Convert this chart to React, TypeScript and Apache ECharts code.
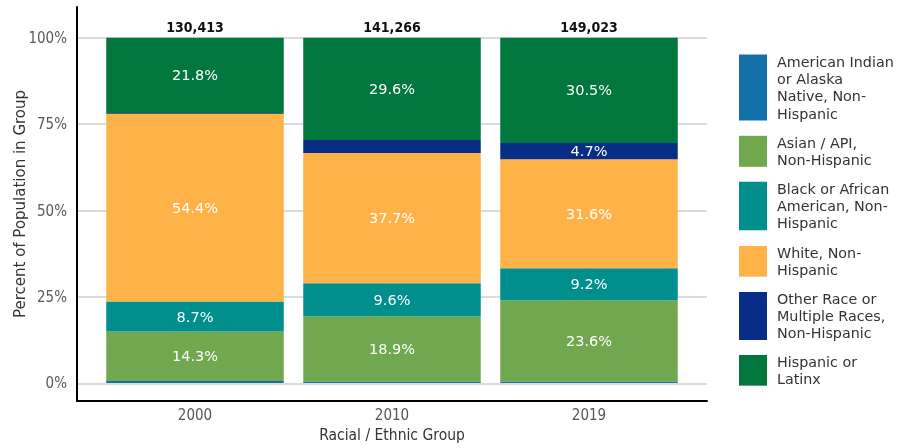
import React, { useEffect, useRef } from "react";
import * as echarts from "echarts";

const years = ["2000", "2010", "2019"];
const totals = ["130,413", "141,266", "149,023"];
const seriesNames = [
  "American Indian or Alaska Native, Non-Hispanic",
  "Asian / API, Non-Hispanic",
  "Black or African American, Non-Hispanic",
  "White, Non-Hispanic",
  "Other Race or Multiple Races, Non-Hispanic",
  "Hispanic or Latinx",
];
const legendLabels = [
  "American Indian\nor Alaska\nNative, Non-\nHispanic",
  "Asian / API,\nNon-Hispanic",
  "Black or African\nAmerican, Non-\nHispanic",
  "White, Non-\nHispanic",
  "Other Race or\nMultiple Races,\nNon-Hispanic",
  "Hispanic or\nLatinx",
];
const americanIndian = [0.6, 0.4, 0.4];
const asian = [14.3, 18.9, 23.6];
const black = [8.7, 9.6, 9.2];
const white = [54.4, 37.7, 31.6];
const other = [0.2, 3.8, 4.7];
const hispanic = [21.8, 29.6, 30.5];
const yTicks = [0, 25, 50, 75, 100];

const colors = ["#1470a9", "#70a74f", "#008f8d", "#feb247", "#072d86", "#01763d"];
const seriesValues = [americanIndian, asian, black, white, other, hispanic];

const FONT = "DejaVu Sans";
const COND = "'DejaVu Sans Condensed', 'DejaVu Sans'";

export default function App() {
  const ref = useRef<HTMLDivElement>(null);
  useEffect(() => {
    if (!ref.current) return;
    const chart = echarts.init(ref.current, null, { renderer: "svg" });
    const legendTops = [53, 134, 180, 244, 290, 353];
    const legendHeights = [66, 31, 48.5, 30.7, 48, 30.7];
    const legends = seriesNames.map((name, i) => ({
      data: [name],
      left: 739,
      top: legendTops[i],
      orient: "vertical",
      itemWidth: 28,
      itemHeight: legendHeights[i],
      icon: "rect",
      selectedMode: false,
      padding: 0,
      formatter: () => legendLabels[i],
      textStyle: {
        fontFamily: FONT,
        fontSize: 14.3,
        color: "#333333",
        lineHeight: 17.3,
        padding: [0, 0, 0, 5],
      },
    }));

    const barSeries = seriesNames.map((name, i) => ({
      name,
      type: "bar",
      stack: "total",
      xAxisIndex: 1,
      yAxisIndex: 1,
      barWidth: 177.5,
      data: seriesValues[i],
      itemStyle: { color: colors[i] },
      label: {
        show: true,
        position: "inside",
        color: "#ffffff",
        fontFamily: FONT,
        fontSize: 14.5,
        formatter: (p: any) => (p.value >= 4 ? p.value.toFixed(1) + "%" : ""),
      },
      emphasis: { disabled: true },
    }));

    const totalSeries = {
      name: "Total",
      type: "bar",
      stack: "total",
      xAxisIndex: 1,
      yAxisIndex: 1,
      barWidth: 177.5,
      data: years.map(() => 0),
      itemStyle: { color: "transparent" },
      label: {
        show: true,
        position: "top",
        distance: 4,
        color: "#111111",
        fontFamily: COND,
        fontSize: 14,
        fontWeight: "bold",
        formatter: (p: any) => totals[p.dataIndex],
      },
      emphasis: { disabled: true },
    };

    chart.setOption({
      animation: false,
      legend: legends,
      grid: [
        { left: 77, right: 192, top: 37.7, bottom: 64.7 },
        { left: 96.5, right: 211.5, top: 37.7, bottom: 64.7 },
        { left: 77, right: 192, top: 7, bottom: 47 },
      ],
      xAxis: [
        { gridIndex: 0, type: "category", data: years, show: false },
        {
          gridIndex: 1,
          type: "category",
          data: years,
          axisLine: { show: false },
          axisTick: { show: false },
          axisLabel: { margin: 24, color: "#555555", fontFamily: COND, fontSize: 15 },
          name: "Racial / Ethnic Group",
          nameLocation: "middle",
          nameGap: 44,
          nameTextStyle: { color: "#333333", fontFamily: COND, fontSize: 15.5 },
        },
        {
          gridIndex: 2,
          type: "value",
          min: 0,
          max: 1,
          axisLine: { show: true, onZero: false, lineStyle: { color: "#000000", width: 2 } },
          axisTick: { show: false },
          axisLabel: { show: false },
          splitLine: { show: false },
        },
      ],
      yAxis: [
        {
          gridIndex: 0,
          type: "value",
          min: 0,
          max: 100,
          interval: 25,
          axisLine: { show: false },
          axisTick: { show: false },
          axisLabel: {
            margin: 10,
            color: "#595959",
            fontFamily: COND,
            fontSize: 15,
            formatter: (v: number) => (yTicks.includes(v) ? v + "%" : ""),
          },
          splitLine: { show: true, lineStyle: { color: "#cfcfcf", width: 1.5 } },
        },
        { gridIndex: 1, type: "value", min: 0, max: 100, show: false },
        {
          gridIndex: 2,
          type: "value",
          min: 0,
          max: 1,
          axisLine: { show: true, onZero: false, lineStyle: { color: "#000000", width: 2 } },
          axisTick: { show: false },
          axisLabel: { show: false },
          splitLine: { show: false },
          name: "Percent of Population in Group",
          nameLocation: "middle",
          nameGap: 50,
          nameTextStyle: { color: "#333333", fontFamily: FONT, fontSize: 15 },
        },
      ],
      series: [...barSeries, totalSeries],
    });
    return () => chart.dispose();
  }, []);
  return (
    <div
      ref={ref}
      style={{ position: "fixed", left: 0, top: 0, width: 899, height: 448 }}
    />
  );
}
